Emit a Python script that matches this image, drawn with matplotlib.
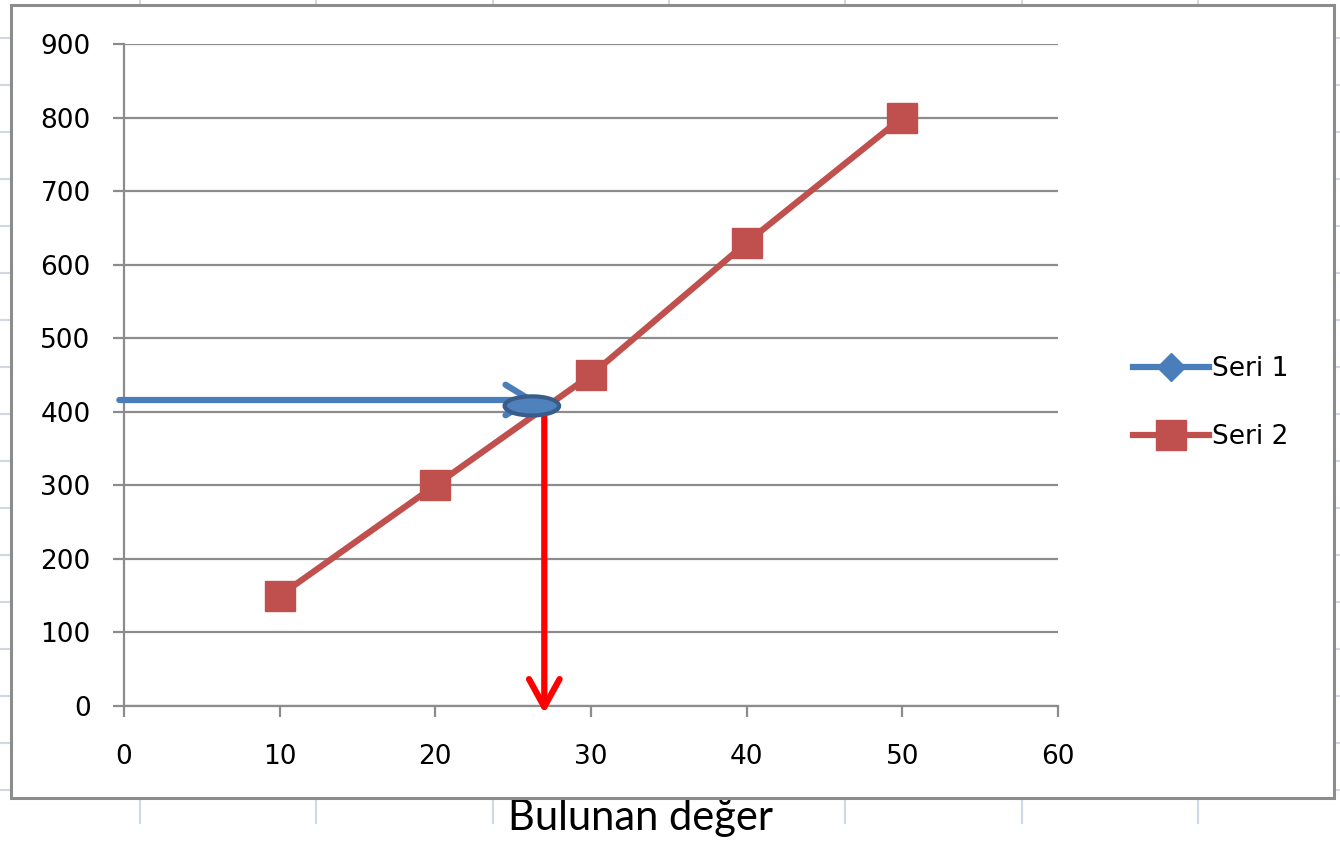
import numpy as np
import matplotlib
matplotlib.use("Agg")
import matplotlib.pyplot as plt
from matplotlib.patches import Rectangle, Ellipse

# data
seri2_x = [10, 20, 30, 40, 50]
seri2_y = [150, 300, 450, 630, 800]
seri1_x = []
seri1_y = []
known_y = 416          # value read on the y axis (blue arrow)
found_x = 27           # value found on the x axis (red arrow)
x_ticks = [0, 10, 20, 30, 40, 50, 60]
y_ticks = [0, 100, 200, 300, 400, 500, 600, 700, 800, 900]
caption = "Bulunan değer"

W, H = 1340, 841
GRAY = "#8c8c8c"
BLUE = "#4a7ebb"
RED = "#c0504d"


def main():
    fig = plt.figure(figsize=(W / 100, H / 100), dpi=100)

    # spreadsheet background with cell lines and the chart frame
    bg = fig.add_axes([0, 0, 1, 1], zorder=0)
    bg.set_xlim(0, W)
    bg.set_ylim(H, 0)
    bg.axis("off")
    for x in np.arange(140, W, 176.3):
        bg.axvline(x, color="#d0d7e5", lw=1.5, zorder=1)
    for y in np.arange(38, H, 47):
        bg.axhline(y, color="#d0d7e5", lw=1.5, zorder=1)
    bg.add_patch(Rectangle((0, 824), W, H - 824, facecolor="white",
                           edgecolor="none", zorder=2))
    bg.add_patch(Rectangle((11, 5), 1323, 793, facecolor="white",
                           edgecolor="none", zorder=3))
    bg.text(641, 818, caption, family="Lato", fontsize=30,
            ha="center", va="center", color="black", zorder=4,
            bbox=dict(facecolor="white", edgecolor="none", pad=3))
    bg.add_patch(Rectangle((11, 5), 1323, 793, facecolor="none",
                           edgecolor=GRAY, lw=2.2, zorder=5))

    ax = fig.add_axes([124 / W, 1 - 706 / H, 934 / W, 662 / H], zorder=1)
    ax.set_facecolor("none")
    ax.set_xlim(0, 60)
    ax.set_ylim(0, 900)
    ax.set_xticks(x_ticks)
    ax.set_yticks(y_ticks)
    for s in ["top", "right"]:
        ax.spines[s].set_visible(False)
    for s in ["left", "bottom"]:
        ax.spines[s].set_color(GRAY)
        ax.spines[s].set_linewidth(1.6)
    ax.yaxis.grid(True, color=GRAY, lw=1.6)
    ax.set_axisbelow(True)
    ax.tick_params(axis="x", length=8, width=1.6, color=GRAY, pad=19,
                   labelsize=19)
    ax.tick_params(axis="y", length=8, width=1.6, color=GRAY, pad=16,
                   labelsize=19)

    ax.plot(seri1_x, seri1_y, color=BLUE, lw=4.5, marker="D",
            markersize=14, label="Seri 1")
    ax.plot(seri2_x, seri2_y, color=RED, lw=4.5, marker="s",
            markersize=22, label="Seri 2", zorder=3)

    # reading arrows
    ax.annotate("", xy=(found_x - 0.5, known_y), xytext=(-0.3, known_y),
                arrowprops=dict(arrowstyle="->,head_length=1.8,head_width=1.1",
                                color=BLUE, lw=4.5, shrinkA=0, shrinkB=0),
                annotation_clip=False, zorder=4)
    ax.annotate("", xy=(found_x, -10), xytext=(found_x, 404),
                arrowprops=dict(arrowstyle="->,head_length=2.0,head_width=1.1",
                                color="red", lw=4.5, shrinkA=0, shrinkB=0),
                annotation_clip=False, zorder=4)
    ax.add_patch(Ellipse((found_x - 0.8, 408), 3.5, 26, facecolor="#4f81bd",
                         edgecolor="#385d8a", lw=3, zorder=5))

    fig.legend(loc="center left", bbox_to_anchor=(1109 / W, 1 - 403 / H),
               frameon=False, fontsize=19, handlelength=2.9,
               handletextpad=0.1, labelspacing=1.6)

    fig.savefig("out.png", dpi=100)


if __name__ == '__main__':
    main()
